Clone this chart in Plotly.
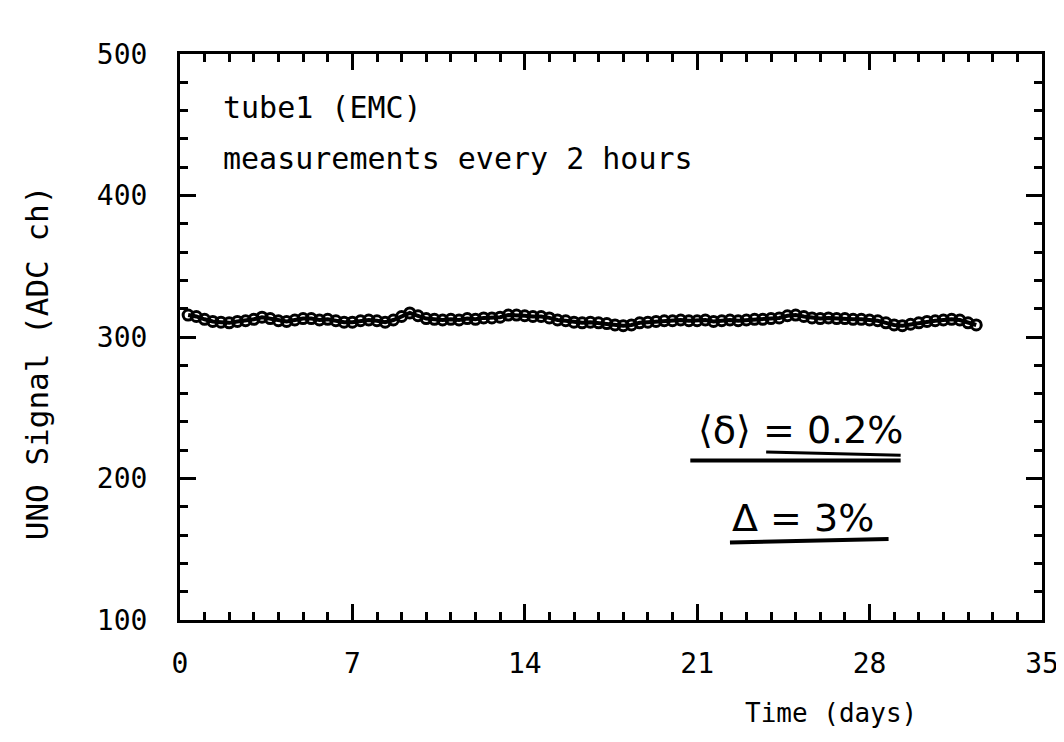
import plotly.graph_objects as go

# ---- data ----
start_day = 0.33
step_day = 1 / 3
signal = [
    315.5, 314.5, 312.5, 311.0, 310.5, 310.0, 311.0, 311.5, 312.5, 314.0,
    313.0, 311.5, 311.0, 312.0, 313.0, 313.0, 312.0, 312.5, 311.5, 310.5,
    310.5, 311.5, 312.0, 311.5, 310.5, 312.0, 314.5, 317.0, 315.0, 313.0,
    312.5, 312.0, 312.5, 312.0, 313.0, 312.5, 313.5, 313.5, 314.0, 315.5,
    315.5, 315.0, 314.5, 314.5, 313.5, 312.0, 311.5, 310.5, 310.0, 310.5,
    310.0, 309.5, 308.5, 308.0, 308.5, 310.0, 310.5, 311.0, 311.5, 311.5,
    312.0, 311.5, 311.5, 312.0, 311.0, 311.5, 312.0, 311.5, 312.0, 312.5,
    312.5, 313.0, 313.5, 315.0, 315.5, 314.5, 313.5, 313.0, 313.5, 313.0,
    313.0, 312.5, 312.5, 312.0, 311.5, 310.0, 308.5, 308.0, 309.0, 310.0,
    311.0, 311.5, 312.0, 312.5, 312.0, 310.0, 308.5,
]
days = [round(start_day + i * step_day, 3) for i in range(len(signal))]

x_ticks = [0, 7, 14, 21, 28, 35]
x_ticktext = ["0", "7", "14", "21", "28", "35"]
y_ticks = [100, 200, 300, 400, 500]
y_ticktext = ["100", "200", "300", "400", "500"]

FONT = "DejaVu Sans Mono, monospace"
HAND = "DejaVu Sans, sans-serif"

fig = go.Figure()
fig.add_trace(go.Scatter(
    x=days, y=signal, mode="lines+markers",
    line=dict(color="black", width=4),
    marker=dict(symbol="circle-open", size=10, color="black", line=dict(width=3)),
    showlegend=False,
))

axis_common = dict(
    showline=True, linecolor="black", linewidth=3, mirror="ticks",
    ticks="inside", tickcolor="black", tickwidth=2.5, ticklen=16,
    showgrid=False, zeroline=False, automargin=False,
    tickfont=dict(family=FONT, size=28, color="black"),
)

fig.update_layout(
    width=1064, height=742,
    margin=dict(l=172, r=30, t=46, b=130),
    plot_bgcolor="white", paper_bgcolor="white",
    xaxis=dict(range=[0, 35], tickvals=x_ticks, ticktext=x_ticktext,
               minor=dict(dtick=1, ticks="inside", ticklen=8, tickwidth=2.5, tickcolor="black", showgrid=False),
               ticklabelstandoff=16, **axis_common),
    yaxis=dict(range=[100, 500], tickvals=y_ticks, ticktext=y_ticktext,
               minor=dict(dtick=20, ticks="inside", ticklen=8, tickwidth=2.5, tickcolor="black", showgrid=False),
               ticklabelstandoff=24, **axis_common),
    font=dict(family=FONT, color="black"),
)

# y-axis title
fig.add_annotation(text="UNO Signal (ADC ch)", xref="paper", yref="paper",
                   x=-0.165, y=0.455, xanchor="center", yanchor="middle", textangle=-90,
                   showarrow=False, font=dict(family=FONT, size=31, color="black"))
# x-axis title
fig.add_annotation(text="Time (days)", xref="paper", yref="paper",
                   x=0.755, y=-0.165, xanchor="center", yanchor="middle",
                   showarrow=False, font=dict(family=FONT, size=26, color="black"))

# labels in the plot
fig.add_annotation(text="tube1 (EMC)", xref="paper", yref="paper",
                   x=0.048, y=0.905, xanchor="left", yanchor="middle",
                   showarrow=False, font=dict(family=FONT, size=30, color="black"))
fig.add_annotation(text="measurements every 2 hours", xref="paper", yref="paper",
                   x=0.048, y=0.816, xanchor="left", yanchor="middle",
                   showarrow=False, font=dict(family=FONT, size=30, color="black"))

# handwritten notes
fig.add_annotation(text="⟨δ⟩ = 0.2%", xref="paper", yref="paper",
                   x=0.72, y=0.335, xanchor="center", yanchor="middle",
                   showarrow=False, font=dict(family=HAND, size=38, color="black"))
fig.add_annotation(text="Δ = 3%", xref="paper", yref="paper",
                   x=0.723, y=0.18, xanchor="center", yanchor="middle",
                   showarrow=False, font=dict(family=HAND, size=38, color="black"))
fig.add_shape(type="line", xref="paper", yref="paper", x0=0.592, x1=0.836, y0=0.282, y1=0.282,
              line=dict(color="black", width=4))
fig.add_shape(type="line", xref="paper", yref="paper", x0=0.68, x1=0.836, y0=0.297, y1=0.291,
              line=dict(color="black", width=3))
fig.add_shape(type="line", xref="paper", yref="paper", x0=0.638, x1=0.822, y0=0.137, y1=0.143,
              line=dict(color="black", width=4))

fig.write_html("out.html")
